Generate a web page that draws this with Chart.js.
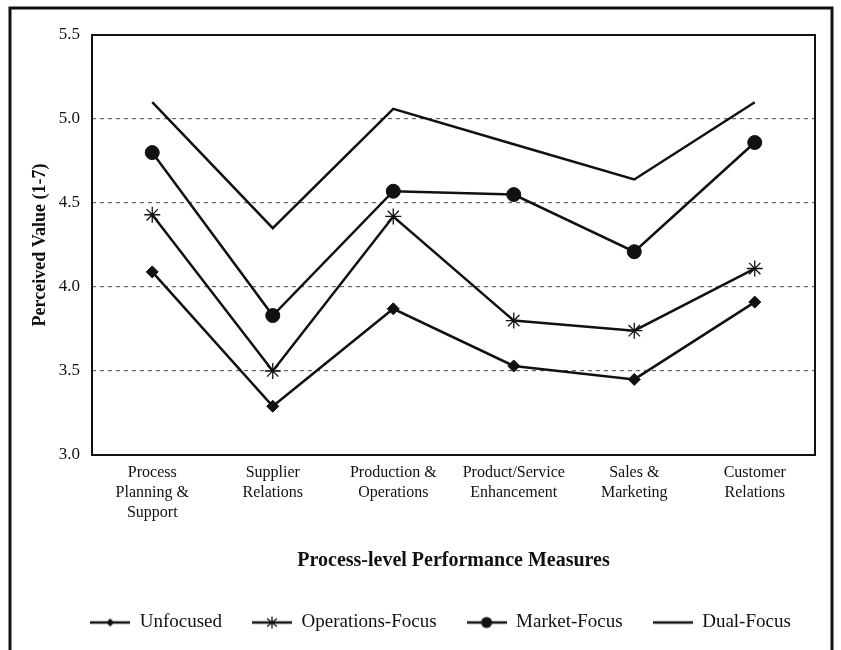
<!DOCTYPE html>
<html>
<head>
<meta charset="utf-8">
<script src="https://cdn.jsdelivr.net/npm/chart.js@4.4.1/dist/chart.umd.min.js"></script>
<style>
  html, body { margin: 0; padding: 0; background: #fff; }
  #wrap { width: 841px; height: 650px; }
</style>
</head>
<body>
<div id="wrap"><canvas id="c" width="841" height="650"></canvas></div>
<script>
const categories = [
  ['Process', 'Planning &', 'Support'],
  ['Supplier', 'Relations'],
  ['Production &', 'Operations'],
  ['Product/Service', 'Enhancement'],
  ['Sales &', 'Marketing'],
  ['Customer', 'Relations']
];
const unfocused = [4.09, 3.29, 3.87, 3.53, 3.45, 3.91];
const operationsFocus = [4.43, 3.50, 4.42, 3.80, 3.74, 4.11];
const marketFocus = [4.80, 3.83, 4.57, 4.55, 4.21, 4.86];
const dualFocus = [5.10, 4.35, 5.06, 4.85, 4.64, 5.10];
const yTicks = [3.0, 3.5, 4.0, 4.5, 5.0, 5.5];

const ink = '#111';
const serif = "'Liberation Serif', 'DejaVu Serif', serif";

// legend icons: a short line with the series marker in the middle
function makeIcon(kind) {
  const cv = document.createElement('canvas');
  cv.width = 40; cv.height = 16;
  const g = cv.getContext('2d');
  g.strokeStyle = ink; g.fillStyle = ink; g.lineWidth = 2.5;
  g.beginPath(); g.moveTo(0, 8); g.lineTo(40, 8); g.stroke();
  if (kind === 'diamond') {
    g.beginPath(); g.moveTo(20, 4); g.lineTo(24, 8); g.lineTo(20, 12); g.lineTo(16, 8); g.closePath(); g.fill();
  } else if (kind === 'star') {
    g.lineWidth = 1.3;
    g.beginPath();
    g.moveTo(20, 2); g.lineTo(20, 14);
    g.moveTo(15, 4); g.lineTo(25, 12);
    g.moveTo(25, 4); g.lineTo(15, 12);
    g.stroke();
  } else if (kind === 'circle') {
    g.beginPath(); g.arc(20, 8, 5.5, 0, Math.PI * 2); g.fill();
  }
  return cv;
}
const icons = [makeIcon('diamond'), makeIcon('star'), makeIcon('circle'), makeIcon('none')];

const frame = {
  id: 'frame',
  afterLayout(chart) {
    // legend sits a little right of centre in the original
    chart.legend.left += 22;
    chart.legend.right += 22;
  },
  afterDraw(chart) {
    const ctx = chart.ctx, a = chart.chartArea;
    ctx.save();
    ctx.strokeStyle = ink;
    ctx.lineWidth = 3;
    ctx.strokeRect(10, 8, 822, 700);
    ctx.lineWidth = 2;
    ctx.strokeRect(a.left, a.top, a.right - a.left, a.bottom - a.top);
    ctx.restore();
  }
};

function series(label, data, style, radius) {
  return {
    label: label,
    data: data,
    borderColor: ink,
    backgroundColor: ink,
    borderWidth: 2.5,
    tension: 0,
    pointStyle: style,
    pointRadius: radius,
    pointBorderColor: ink,
    pointBackgroundColor: ink,
    pointBorderWidth: style === 'star' ? 1.3 : 1
  };
}

new Chart(document.getElementById('c'), {
  type: 'line',
  data: {
    labels: categories,
    datasets: [
      series('Unfocused', unfocused, 'rectRot', 6),
      series('Operations-Focus', operationsFocus, 'star', 8),
      series('Market-Focus', marketFocus, 'circle', 7),
      series('Dual-Focus', dualFocus, 'circle', 0)
    ]
  },
  options: {
    responsive: false,
    animation: false,
    layout: { padding: { left: 22, right: 26, top: 35, bottom: 8 } },
    plugins: {
      tooltip: { enabled: false },
      legend: {
        position: 'bottom',
        labels: {
          usePointStyle: true,
          pointStyleWidth: 40,
          padding: 30,
          color: ink,
          font: { family: serif, size: 19 },
          generateLabels(chart) {
            return chart.data.datasets.map((ds, i) => ({
              text: ds.label,
              pointStyle: icons[i],
              fillStyle: ink,
              strokeStyle: ink,
              lineWidth: 0,
              hidden: false,
              datasetIndex: i,
              fontColor: ink
            }));
          }
        }
      }
    },
    scales: {
      x: {
        offset: true,
        grid: { display: false },
        border: { display: false },
        ticks: {
          color: ink,
          padding: 0,
          maxRotation: 0,
          autoSkip: false,
          font: { family: serif, size: 16, lineHeight: 1.25 }
        },
        title: {
          display: true,
          text: 'Process-level Performance Measures',
          color: ink,
          padding: { top: 31, bottom: 10 },
          font: { family: serif, size: 20, weight: 'bold' }
        },
        afterFit(scale) { scale.height = 128; }
      },
      y: {
        min: 3.0,
        max: 5.5,
        afterBuildTicks(scale) { scale.ticks = yTicks.map(v => ({ value: v })); },
        grid: {
          drawTicks: false,
          color: ctx => (ctx.tick && (ctx.tick.value === 3.0 || ctx.tick.value === 5.5)) ? 'rgba(0,0,0,0)' : '#666',
          lineWidth: 1.2
        },
        border: { display: false, dash: [4, 4] },
        ticks: {
          color: ink,
          padding: 12,
          font: { family: serif, size: 17 },
          callback: v => Number(v).toFixed(1)
        },
        title: {
          display: true,
          text: 'Perceived Value (1-7)',
          color: ink,
          padding: { top: 8, bottom: 4 },
          font: { family: serif, size: 18, weight: 'bold' }
        },
        afterFit(scale) { scale.width = 70; }
      }
    }
  },
  plugins: [frame]
});
</script>
</body>
</html>
